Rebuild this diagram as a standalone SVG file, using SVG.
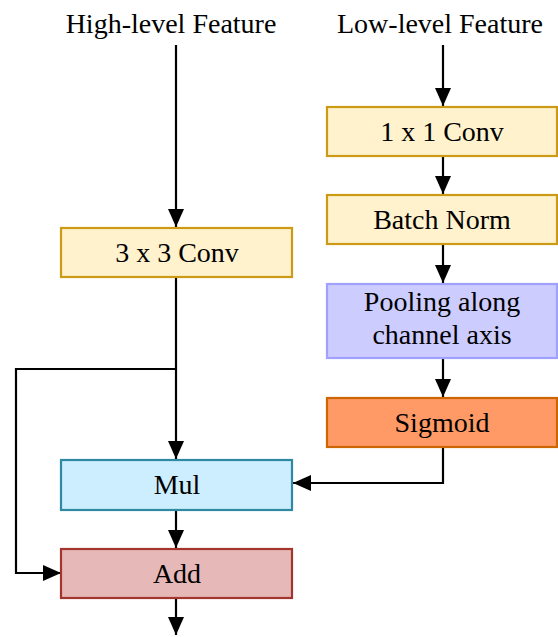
<svg xmlns="http://www.w3.org/2000/svg" width="558" height="637" viewBox="0 0 558 637">
<style>
text{font-family:"Liberation Serif","Times New Roman",serif;font-size:28px;fill:#000;text-anchor:middle}
.box{stroke-width:2.2}
.y{fill:#fff2cc;stroke:#cc9a14}
.p{fill:#ccccff;stroke:#a0a0ff}
.s{fill:#ff9966;stroke:#cc6600}
.m{fill:#cceeff;stroke:#2f8aa1}
.a{fill:#e6b8b7;stroke:#a3352e}
.c{fill:none;stroke:#000;stroke-width:2.2}
</style>
<defs>
<marker id="ah" viewBox="0 0 18 16" refX="18" refY="8" markerWidth="18" markerHeight="16" markerUnits="userSpaceOnUse" orient="auto">
<path d="M0,0 L18,8 L0,16 z" fill="#000"/>
</marker>
</defs>
<g id="labels">
<text x="171" y="33">High-level Feature</text>
<text x="440" y="33">Low-level Feature</text>
</g>
<g id="connectors">
<path class="c" d="M176,45 V227" marker-end="url(#ah)"/>
<path class="c" d="M443,45 V106" marker-end="url(#ah)"/>
<path class="c" d="M443,156 V194" marker-end="url(#ah)"/>
<path class="c" d="M443,244 V283" marker-end="url(#ah)"/>
<path class="c" d="M443,358 V397" marker-end="url(#ah)"/>
<path class="c" d="M443,447 V483 H293" marker-end="url(#ah)"/>
<path class="c" d="M176,277 V459" marker-end="url(#ah)"/>
<path class="c" d="M176,369 H16 V573 H61" marker-end="url(#ah)"/>
<path class="c" d="M176,510 V548" marker-end="url(#ah)"/>
<path class="c" d="M176,598 V635" marker-end="url(#ah)"/>
</g>
<g id="conv3">
<rect class="box y" x="61" y="228" width="231" height="49"/>
<text x="177" y="262">3 x 3 Conv</text>
</g>
<g id="conv1">
<rect class="box y" x="327" y="107" width="230" height="49"/>
<text x="442" y="141">1 x 1 Conv</text>
</g>
<g id="bn">
<rect class="box y" x="327" y="195" width="230" height="49"/>
<text x="442" y="229">Batch Norm</text>
</g>
<g id="pool">
<rect class="box p" x="327" y="284" width="230" height="74"/>
<text x="442" y="311">Pooling along</text>
<text x="442" y="344">channel axis</text>
</g>
<g id="sigmoid">
<rect class="box s" x="327" y="398" width="230" height="49"/>
<text x="442" y="432">Sigmoid</text>
</g>
<g id="mul">
<rect class="box m" x="61" y="460" width="231" height="50"/>
<text x="177" y="494">Mul</text>
</g>
<g id="add">
<rect class="box a" x="61" y="549" width="231" height="49"/>
<text x="177" y="583">Add</text>
</g>
</svg>
